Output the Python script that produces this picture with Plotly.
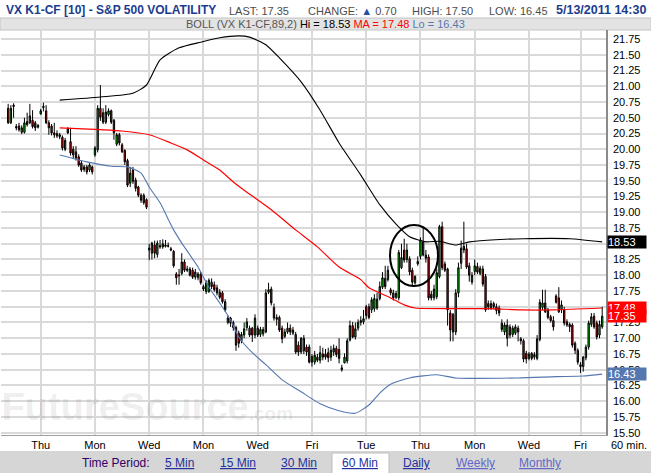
import plotly.graph_objects as go

# ---------------- data (60-min bars, VX K1-CF) ----------------
opens = [20.65,20.42,20.70,20.36,20.37,20.27,20.27,20.44,20.42,20.46,
         20.42,20.35,20.56,20.66,20.61,20.42,20.37,20.26,20.21,20.23,
         20.19,20.00,20.33,20.12,20.00,19.96,19.88,19.78,19.72,19.72,
         19.67,19.72,19.91,19.99,20.65,20.58,20.43,20.55,20.61,20.46,
         20.08,20.23,20.07,19.98,19.82,19.46,19.67,19.51,19.40,19.27,
         19.27,19.20,18.40,18.35,18.48,18.33,18.47,18.45,18.48,18.47,
         18.42,18.38,18.02,17.99,18.03,18.21,18.10,18.10,18.08,17.97,
         17.96,18.02,17.82,17.74,17.74,17.89,17.85,17.80,17.73,17.72,
         17.58,17.25,17.32,17.25,17.17,17.08,16.96,17.05,17.17,17.16,
         17.16,17.05,17.16,17.06,17.07,17.10,17.73,17.78,17.49,17.33,
         17.33,17.16,17.03,17.10,17.16,17.08,17.06,16.89,16.78,16.80,
         16.86,16.86,16.71,16.62,16.70,16.65,16.75,16.75,16.77,16.70,
         16.78,16.84,16.82,16.50,16.61,16.64,16.97,17.20,17.02,17.16,
         17.25,17.26,17.50,17.50,17.45,17.47,17.48,17.63,17.81,17.95,
         17.93,17.77,17.72,17.65,17.64,18.12,18.40,18.25,18.26,18.08,
         17.88,18.18,18.30,18.53,18.32,18.29,17.70,17.64,17.66,17.98,
         18.77,18.18,18.10,17.40,17.38,17.10,17.72,18.19,18.46,18.42,
         18.15,17.89,18.06,18.14,18.03,18.10,17.98,17.55,17.48,17.55,
         17.50,17.48,17.24,17.10,17.00,17.18,17.06,17.08,17.16,16.99,
         16.96,16.76,16.68,16.76,16.70,16.68,16.98,17.49,17.56,17.45,
         17.34,17.28,17.67,17.64,17.45,17.45,17.26,17.22,17.21,16.92,
         16.81,16.58,16.55,16.69,16.86,17.22,17.35,17.24,17.05,17.18]

highs = [20.72,20.70,20.73,20.40,20.42,20.38,20.50,20.58,20.72,20.62,
         20.45,20.40,20.64,20.74,20.70,20.46,20.40,20.42,20.30,20.26,
         20.22,20.18,20.35,20.34,20.05,20.05,19.92,19.82,19.75,19.75,
         19.78,19.74,20.05,20.70,21.02,20.65,20.70,20.65,20.63,20.48,
         20.26,20.26,20.10,20.00,19.85,19.72,19.72,19.55,19.42,19.30,
         19.30,19.22,18.50,18.53,18.55,18.55,18.56,18.57,18.56,18.52,
         18.45,18.40,18.05,18.10,18.35,18.25,18.15,18.13,18.12,18.10,
         18.05,18.05,17.85,17.92,17.95,17.95,17.90,17.85,17.78,17.75,
         17.62,17.36,17.34,17.28,17.20,17.12,17.10,17.25,17.32,17.20,
         17.18,17.38,17.20,17.18,17.18,17.78,17.88,17.82,17.55,17.38,
         17.36,17.20,17.15,17.25,17.22,17.18,17.10,16.95,17.02,17.05,
         16.90,16.90,16.75,16.80,16.75,16.88,16.85,16.83,16.85,16.88,
         16.90,16.88,17.00,16.58,16.76,17.00,17.28,17.26,17.25,17.30,
         17.35,17.45,17.53,17.55,17.65,17.70,17.72,17.90,18.05,18.15,
         18.15,17.80,17.77,17.75,18.40,18.50,18.58,18.50,18.30,18.12,
         18.00,18.30,18.60,18.75,18.40,18.33,17.75,17.85,18.10,18.80,
         18.85,18.22,18.12,17.45,17.40,17.78,18.20,18.55,18.85,18.50,
         18.20,18.05,18.25,18.20,18.15,18.15,18.02,17.60,17.60,17.58,
         17.55,17.52,17.30,17.25,17.30,17.22,17.20,17.22,17.20,17.02,
         16.99,16.80,16.78,16.78,16.78,17.05,17.62,17.77,17.77,17.48,
         17.37,17.35,17.70,17.81,17.60,17.50,17.30,17.25,17.24,16.95,
         16.84,16.62,16.72,16.90,17.28,17.40,17.40,17.28,17.28,17.50]

lows = [20.40,20.40,20.50,20.30,20.28,20.24,20.25,20.36,20.40,20.33,
        20.29,20.33,20.55,20.60,20.40,20.23,20.22,20.18,20.18,20.16,
        19.98,19.97,20.24,19.90,19.85,19.82,19.72,19.64,19.64,19.60,
        19.64,19.60,19.88,19.95,20.45,20.40,20.40,20.52,20.40,20.15,
        20.05,20.06,19.94,19.75,19.40,19.40,19.45,19.33,19.24,19.15,
        19.12,19.05,18.24,18.25,18.27,18.28,18.42,18.42,18.44,18.44,
        18.38,18.12,17.85,17.85,18.00,18.05,18.05,17.98,17.94,17.93,
        17.92,17.85,17.75,17.70,17.72,17.78,17.74,17.68,17.62,17.55,
        17.42,17.22,17.18,17.12,16.80,16.85,16.92,17.00,17.12,17.02,
        16.94,17.00,17.02,17.02,17.03,17.08,17.70,17.52,17.28,17.20,
        17.10,16.92,17.00,17.07,17.05,17.05,16.75,16.72,16.75,16.75,
        16.72,16.60,16.55,16.58,16.62,16.60,16.65,16.66,16.62,16.64,
        16.72,16.70,16.60,16.47,16.60,16.60,16.95,17.00,16.98,17.12,
        17.20,17.22,17.30,17.30,17.40,17.42,17.45,17.60,17.78,17.78,
        17.90,17.68,17.60,17.62,17.60,18.10,18.20,18.20,18.00,17.82,
        17.85,18.15,18.25,18.30,18.20,17.60,17.60,17.60,17.62,17.95,
        18.08,18.05,17.20,16.95,16.95,17.05,17.65,18.10,18.35,18.10,
        17.90,17.85,18.00,18.02,18.00,17.82,17.42,17.45,17.45,17.46,
        17.38,17.35,17.10,17.05,16.87,17.00,17.02,17.05,16.95,16.90,
        16.62,16.60,16.65,16.65,16.66,16.65,16.95,17.45,17.40,17.30,
        17.25,17.12,17.55,17.40,17.40,17.20,17.18,17.10,16.85,16.75,
        16.58,16.45,16.47,16.65,16.82,17.18,17.15,16.98,17.00,17.15]

closes = [20.42,20.65,20.68,20.34,20.31,20.34,20.42,20.39,20.53,20.36,
          20.34,20.38,20.61,20.68,20.42,20.34,20.26,20.23,20.25,20.20,
          20.02,20.14,20.26,19.94,19.91,19.86,19.75,19.67,19.68,19.64,
          19.75,19.64,20.02,20.65,20.51,20.43,20.59,20.61,20.43,20.26,
          20.23,20.10,19.96,19.80,19.43,19.62,19.49,19.38,19.27,19.19,
          19.15,19.08,18.43,18.51,18.35,18.51,18.45,18.50,18.46,18.46,
          18.40,18.15,17.96,18.00,18.21,18.08,18.08,18.00,17.97,18.05,
          18.02,17.88,17.78,17.88,17.92,17.82,17.77,17.72,17.65,17.58,
          17.45,17.32,17.24,17.17,16.89,16.92,17.06,17.15,17.26,17.05,
          17.05,17.32,17.05,17.14,17.14,17.72,17.77,17.56,17.32,17.30,
          17.13,16.99,17.10,17.16,17.10,17.13,16.78,16.78,17.00,17.00,
          16.78,16.62,16.62,16.73,16.65,16.77,16.70,16.70,16.69,16.81,
          16.84,16.74,16.68,16.53,16.70,16.96,17.20,17.02,17.15,17.25,
          17.28,17.31,17.36,17.33,17.61,17.63,17.62,17.82,17.96,17.82,
          18.08,17.72,17.64,17.71,18.36,18.28,18.24,18.40,18.05,17.89,
          17.98,18.22,18.56,18.32,18.27,17.64,17.64,17.78,18.04,18.77,
          18.12,18.08,17.45,17.13,17.10,17.72,18.12,18.43,18.40,18.13,
          18.00,18.00,18.15,18.05,18.11,17.86,17.45,17.50,17.55,17.50,
          17.44,17.40,17.14,17.21,17.21,17.05,17.16,17.18,17.10,16.96,
          16.67,16.67,16.75,16.68,16.74,16.99,17.57,17.56,17.42,17.33,
          17.28,17.18,17.57,17.42,17.53,17.24,17.21,17.18,16.89,16.81,
          16.62,16.55,16.70,16.86,17.24,17.34,17.18,17.02,17.22,17.35]

bar_index = list(range(len(closes)))

# first bar of each labelled trading day
day_start_index = [12, 32, 52, 72, 92, 112, 132, 152, 172, 192, 211]
day_labels = ["Thu", "Mon", "Wed", "Mon", "Wed", "Fri", "Tue", "Thu", "Mon", "Wed", "Fri"]

# Bollinger (89, 2) readings
boll_hi_index = [19, 34, 46, 51, 56, 63, 71, 78, 85, 89, 95, 100, 108, 115, 122, 130, 137, 143,
                 148, 154, 159, 165, 170, 178, 190, 207, 219]
boll_hi = [20.78, 20.83, 20.89, 21.02, 21.42, 21.61, 21.70, 21.77, 21.80, 21.78, 21.66, 21.45,
           21.07, 20.62, 20.10, 19.59, 19.12, 18.81, 18.61, 18.53, 18.54, 18.48, 18.53, 18.56,
           18.58, 18.58, 18.53]
boll_ma_index = [19, 34, 42, 52, 60, 66, 72, 78, 83, 87, 97, 106, 114, 122, 130, 133, 141, 146,
                 150, 164, 177, 189, 201, 219]
boll_ma = [20.34, 20.31, 20.29, 20.23, 20.10, 19.99, 19.83, 19.67, 19.48, 19.35, 19.04, 18.72,
           18.45, 18.13, 17.93, 17.80, 17.64, 17.53, 17.48, 17.47, 17.47, 17.45, 17.45, 17.48]
boll_lo_index = [19, 29, 38, 44, 49, 52, 56, 59, 61, 64, 70, 74, 78, 82, 85, 90, 95, 101, 108,
                 115, 122, 128, 133, 137, 141, 148, 158, 165, 188, 202, 212, 219]
boll_lo = [19.91, 19.80, 19.73, 19.72, 19.62, 19.40, 19.15, 18.89, 18.72, 18.51, 18.13, 17.81,
           17.56, 17.29, 17.02, 16.77, 16.58, 16.34, 16.15, 15.96, 15.85, 15.81, 15.94, 16.13,
           16.27, 16.37, 16.42, 16.37, 16.37, 16.39, 16.40, 16.43]

last_price = 17.35
change = 0.70
day_high = 17.50
day_low = 16.45
hi_last, ma_last, lo_last = 18.53, 17.48, 16.43

# ---------------- figure ----------------
W, H = 651, 473
def px(x):   # paper x from pixel
    return x / W
def py(y):   # paper y from pixel
    return 1 - y / H

FONT = "Liberation Sans, Arial, sans-serif"
BLUE_LO = "#5577b0"

fig = go.Figure()

# watermark (drawn first, under everything)
fig.add_trace(go.Scatter(
    x=[-2.4], y=[15.86], mode="text",
    text=["<b>FutureSource</b><span style='font-size:19px'><b>.com</b></span>"],
    textfont=dict(family=FONT, size=38, color="rgba(0,0,0,0.085)"),
    textposition="middle right", hoverinfo="skip", showlegend=False, cliponaxis=False))

fig.add_trace(go.Candlestick(
    x=bar_index, open=opens, high=highs, low=lows, close=closes,
    increasing=dict(line=dict(color="black", width=1), fillcolor="#00dd00"),
    decreasing=dict(line=dict(color="black", width=1), fillcolor="#ee0000"),
    whiskerwidth=0, hoverinfo="skip", showlegend=False))

fig.add_trace(go.Scatter(x=boll_hi_index, y=boll_hi, mode="lines",
                         line=dict(color="black", width=1.1, shape="spline", smoothing=0.6),
                         hoverinfo="skip", showlegend=False))
fig.add_trace(go.Scatter(x=boll_ma_index, y=boll_ma, mode="lines",
                         line=dict(color="#ff0000", width=1.2, shape="spline", smoothing=0.6),
                         hoverinfo="skip", showlegend=False))
fig.add_trace(go.Scatter(x=boll_lo_index, y=boll_lo, mode="lines",
                         line=dict(color=BLUE_LO, width=1.1, shape="spline", smoothing=0.6),
                         hoverinfo="skip", showlegend=False))

annotations = []
def ann(x, y, text, size=11, color="#444", family=FONT, xanchor="left", **kw):
    d = dict(x=x, y=y, xref="paper", yref="paper", text=text, showarrow=False,
             xanchor=xanchor, yanchor="middle",
             font=dict(family=family, size=size, color=color))
    d.update(kw)
    annotations.append(d)

# header row
ann(px(4), py(10), "<b>VX K1-CF [10] - S&P 500 VOLATILITY</b>", size=12,
    color="#1b3c8e")
ann(px(227), py(11), f"LAST: {last_price:.2f}", color="#4d4d4d")
ann(px(306), py(11), f"CHANGE: <span style='color:#1f4fa8'>▲</span> {change:.2f}", color="#4d4d4d")
ann(px(410), py(11), f"HIGH: {day_high:.2f}", color="#4d4d4d")
ann(px(487), py(11), f"LOW: {day_low:.2f}", color="#4d4d4d")
ann(px(648), py(10), "<b>5/13/2011 14:30</b>", size=12.5, color="#1b3c8e", xanchor="right")
# BOLL legend row
ann(px(325), py(24),
    f"BOLL (VX K1-CF,89,2) <span style='color:black'>Hi = {hi_last:.2f}</span> "
    f"<span style='color:#ff0000'>MA = {ma_last:.2f}</span> "
    f"<span style='color:{BLUE_LO}'>Lo = {lo_last:.2f}</span>",
    color="#555", xanchor="center")

# right-axis value boxes
for val, bg in [(hi_last, "black"), (ma_last, "#ff0000"), (last_price, "#ff0000"), (lo_last, BLUE_LO)]:
    annotations.append(dict(x=px(607), y=val, xref="paper", yref="y", text=f"{val:.2f}",
                            showarrow=False, xanchor="left", yanchor="middle",
                            bgcolor=bg, width=38, align="left", borderpad=0,
                            font=dict(family=FONT, size=11, color="white")))

ann(px(629), py(445), "60 min.", color="black", xanchor="center")

# bottom nav bar
ann(px(116), py(462.5), "Time Period:", size=12, color="#330066", xanchor="center")
for label, cx, col in [("5 Min", 179.5, "#23309f"), ("15 Min", 237.5, "#23309f"),
                       ("30 Min", 299, "#23309f"), ("60 Min", 360, "#23309f"),
                       ("Daily", 416.5, "#23309f"), ("Weekly", 475, "#6266c8"),
                       ("Monthly", 540, "#6266c8")]:
    ann(px(cx), py(462.5), f"<u>{label}</u>", size=12, color=col, xanchor="center")

shapes = [
    dict(type="rect", xref="paper", yref="paper", x0=0, x1=1, y0=py(30), y1=py(18),
         fillcolor="#e3e3e3", line=dict(color="#c4c4c4", width=1), layer="below"),
    dict(type="rect", xref="paper", yref="paper", x0=0, x1=1, y0=0, y1=py(451),
         fillcolor="#d6d6d6", line=dict(width=0), layer="below"),
    dict(type="rect", xref="paper", yref="paper", x0=px(332), x1=px(389), y0=-0.01, y1=py(453),
         fillcolor="white", line=dict(color="#bdbdbd", width=1)),
    dict(type="circle", xref="paper", yref="paper", x0=px(390), x1=px(438),
         y0=py(286), y1=py(225), line=dict(color="black", width=2)),
]

fig.update_layout(
    width=W, height=H,
    margin=dict(l=0, r=0, t=0, b=0),
    paper_bgcolor="white", plot_bgcolor="white",
    showlegend=False, hovermode=False,
    font=dict(family=FONT, size=11, color="black"),
    annotations=annotations, shapes=shapes,
    xaxis=dict(domain=[px(1), px(606)], range=[-2.64, 220.4], type="linear",
               tickmode="array", tickvals=day_start_index, ticktext=day_labels,
               showgrid=True, gridcolor="#d9d9d9", gridwidth=1.5, zeroline=False,
               showline=True, linecolor="#a0a0a0", linewidth=1, ticks="",
               tickfont=dict(family=FONT, size=11, color="black"),
               rangeslider=dict(visible=False), fixedrange=True, automargin=False),
    yaxis=dict(domain=[py(435), py(30)], range=[15.464, 21.893], side="right",
               tick0=15.75, dtick=0.25, tickformat=".2f",
               showgrid=True, gridcolor="#d9d9d9", gridwidth=1.5, zeroline=False,
               showline=True, linecolor="#8a8a8a", linewidth=1.5, ticks="",
               ticklabelstandoff=3,
               tickfont=dict(family=FONT, size=11, color="black"),
               fixedrange=True, automargin=False),
)

fig.write_html("out.html", config={"displayModeBar": False},
               post_script="document.body.style.margin='0';document.body.style.overflow='hidden';")
